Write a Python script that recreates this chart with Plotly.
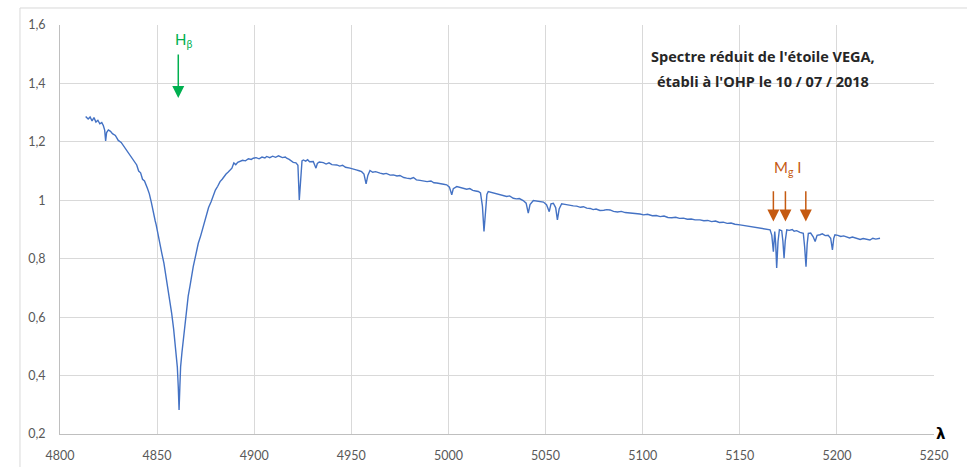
import plotly.graph_objects as go

wavelength = [
    4813.2, 4814.5, 4815.5, 4816.5, 4817.5, 4818.5, 4819.5, 4820.5, 4821.5, 4822.3,
    4823.0, 4823.5, 4824.0, 4824.9, 4826.0, 4827.0, 4828.5, 4830.0, 4831.5, 4833.0,
    4834.3, 4835.5, 4836.5, 4837.5, 4838.5, 4839.5, 4840.5, 4841.5, 4842.5, 4843.5,
    4845.0, 4846.0, 4847.0, 4848.0, 4849.0, 4849.5, 4850.6, 4851.5, 4852.4, 4853.5,
    4854.9, 4856.0, 4857.5, 4858.5, 4859.2, 4860.0, 4860.4, 4860.9, 4861.3, 4861.7,
    4862.1, 4862.8, 4863.5, 4864.3, 4865.2, 4866.0, 4866.9, 4867.8, 4868.6, 4869.5,
    4870.3, 4871.2, 4872.5, 4873.5, 4874.5, 4875.5, 4876.5, 4877.8, 4878.9, 4880.0,
    4881.2, 4882.4, 4883.5, 4884.5, 4885.5, 4886.5, 4887.5, 4888.5, 4889.5, 4890.5,
    4891.5, 4892.7, 4894.0, 4895.5, 4897.0, 4898.5, 4899.5, 4901.0, 4902.5, 4904.0,
    4905.5, 4906.4, 4908.0, 4909.5, 4911.0, 4912.5, 4913.3, 4914.5, 4916.0, 4916.7,
    4918.0, 4919.0, 4920.1, 4921.5, 4922.5, 4923.2, 4923.9, 4924.6, 4925.3, 4926.5,
    4927.5, 4928.5, 4930.4, 4931.0, 4931.8, 4932.5, 4933.5, 4935.6, 4937.0, 4938.5,
    4940.0, 4942.5, 4944.0, 4945.5, 4947.0, 4949.3, 4951.0, 4952.5, 4954.0, 4955.3,
    4956.5, 4957.6, 4958.5, 4959.6, 4961.0, 4962.5, 4964.8, 4966.5, 4968.0, 4970.0,
    4971.6, 4973.5, 4975.0, 4977.0, 4978.5, 4980.5, 4982.0, 4983.5, 4985.4, 4987.0,
    4989.0, 4991.0, 4992.5, 4994.0, 4996.0, 4997.5, 4999.1, 5000.5, 5001.7, 5002.5,
    5004.3, 5006.0, 5007.5, 5009.4, 5011.0, 5012.5, 5014.0, 5015.4, 5016.5, 5017.5,
    5018.3, 5019.0, 5019.8, 5020.5, 5022.0, 5023.5, 5025.0, 5026.6, 5028.0, 5030.0,
    5031.5, 5033.4, 5035.0, 5036.5, 5038.5, 5040.0, 5041.1, 5042.0, 5043.7, 5045.0,
    5046.5, 5048.9, 5050.5, 5051.9, 5052.8, 5054.0, 5055.2, 5056.1, 5057.0, 5058.3,
    5060.0, 5062.0, 5064.3, 5066.0, 5068.0, 5069.5, 5071.2, 5073.0, 5074.5, 5076.0,
    5078.0, 5080.0, 5081.5, 5083.2, 5085.0, 5087.0, 5089.0, 5091.0, 5093.0, 5095.0,
    5096.5, 5098.6, 5100.5, 5102.5, 5105.0, 5107.0, 5109.0, 5111.0, 5113.0, 5115.0,
    5117.0, 5119.0, 5121.0, 5123.0, 5125.0, 5127.0, 5129.5, 5131.5, 5133.5, 5135.5,
    5137.5, 5139.5, 5141.5, 5143.5, 5145.5, 5147.5, 5150.1, 5152.0, 5154.0, 5156.0,
    5158.0, 5160.4, 5162.0, 5164.0, 5165.6, 5166.5, 5167.3, 5168.0, 5168.5, 5169.0,
    5169.7, 5170.4, 5171.6, 5172.2, 5172.8, 5173.4, 5174.2, 5175.5, 5177.0, 5178.0,
    5179.3, 5181.0, 5182.7, 5183.4, 5184.1, 5184.7, 5185.3, 5186.5, 5187.8, 5188.8,
    5189.8, 5191.3, 5192.5, 5194.0, 5195.5, 5196.8, 5197.7, 5198.4, 5199.0, 5200.5,
    5202.0, 5203.5, 5205.0, 5206.5, 5208.0, 5210.2, 5212.0, 5213.5, 5215.4, 5217.0,
    5218.5, 5220.0, 5222.2,
]

flux = [
    1.287, 1.278, 1.285, 1.272, 1.283, 1.268, 1.274, 1.262, 1.266, 1.256,
    1.240, 1.203, 1.232, 1.241, 1.236, 1.228, 1.222, 1.205, 1.198, 1.184,
    1.173, 1.160, 1.152, 1.140, 1.132, 1.121, 1.100, 1.094, 1.072, 1.066,
    1.041, 1.022, 0.994, 0.956, 0.930, 0.917, 0.876, 0.848, 0.819, 0.785,
    0.727, 0.680, 0.613, 0.560, 0.511, 0.470, 0.430, 0.360, 0.282, 0.360,
    0.430, 0.480, 0.522, 0.580, 0.636, 0.672, 0.705, 0.745, 0.773, 0.800,
    0.826, 0.853, 0.880, 0.905, 0.930, 0.956, 0.975, 0.995, 1.019, 1.035,
    1.048, 1.064, 1.072, 1.082, 1.090, 1.096, 1.104, 1.110, 1.128, 1.122,
    1.130, 1.133, 1.137, 1.135, 1.142, 1.140, 1.144, 1.146, 1.142, 1.148,
    1.145, 1.150, 1.146, 1.151, 1.147, 1.152, 1.150, 1.146, 1.148, 1.144,
    1.140, 1.135, 1.130, 1.128, 1.120, 1.001, 1.090, 1.135, 1.138, 1.134,
    1.139, 1.132, 1.133, 1.124, 1.110, 1.126, 1.131, 1.129, 1.124, 1.128,
    1.122, 1.121, 1.117, 1.120, 1.113, 1.110, 1.108, 1.104, 1.101, 1.098,
    1.090, 1.056, 1.085, 1.102, 1.096, 1.098, 1.093, 1.090, 1.092, 1.086,
    1.087, 1.083, 1.085, 1.078, 1.076, 1.074, 1.078, 1.070, 1.068, 1.066,
    1.064, 1.066, 1.060, 1.059, 1.058, 1.055, 1.053, 1.045, 1.019, 1.040,
    1.047, 1.044, 1.040, 1.038, 1.040, 1.034, 1.032, 1.030, 1.025, 0.980,
    0.893, 0.960, 1.020, 1.030, 1.027, 1.025, 1.022, 1.019, 1.016, 1.013,
    1.015, 1.007, 1.005, 1.006, 0.999, 0.990, 0.956, 0.985, 0.999, 0.998,
    0.995, 0.994, 0.985, 0.961, 0.988, 0.990, 0.975, 0.933, 0.970, 0.988,
    0.986, 0.983, 0.981, 0.980, 0.976, 0.978, 0.973, 0.972, 0.968, 0.970,
    0.965, 0.966, 0.968, 0.967, 0.962, 0.960, 0.962, 0.958, 0.957, 0.955,
    0.956, 0.953, 0.950, 0.952, 0.947, 0.948, 0.944, 0.946, 0.941, 0.940,
    0.942, 0.938, 0.939, 0.935, 0.936, 0.933, 0.933, 0.930, 0.931, 0.927,
    0.929, 0.924, 0.925, 0.921, 0.922, 0.918, 0.916, 0.914, 0.912, 0.909,
    0.908, 0.905, 0.903, 0.900, 0.899, 0.880, 0.824, 0.893, 0.850, 0.768,
    0.860, 0.899, 0.896, 0.860, 0.802, 0.860, 0.899, 0.897, 0.900, 0.894,
    0.896, 0.890, 0.887, 0.840, 0.773, 0.850, 0.887, 0.888, 0.875, 0.859,
    0.880, 0.882, 0.885, 0.879, 0.880, 0.870, 0.830, 0.870, 0.882, 0.880,
    0.876, 0.878, 0.874, 0.871, 0.874, 0.870, 0.866, 0.869, 0.867, 0.864,
    0.870, 0.867, 0.870,
]

x_ticks = [4800, 4850, 4900, 4950, 5000, 5050, 5100, 5150, 5200, 5250]
x_tick_labels = ["4800", "4850", "4900", "4950", "5000", "5050", "5100", "5150", "5200", "5250"]
y_ticks = [0.2, 0.4, 0.6, 0.8, 1.0, 1.2, 1.4, 1.6]
y_tick_labels = ["0,2", "0,4", "0,6", "0,8", "1", "1,2", "1,4", "1,6"]

title_lines = ["Spectre réduit de l'étoile VEGA,", "établi à l'OHP le 10 / 07 / 2018"]

hbeta_label = "H<sub>β</sub>"
hbeta_lambda = 4860.9
hbeta_arrow = (1.504, 1.350)

mg_label = "M<sub>g</sub> I"
mg_lambdas = [5167.3, 5173.5, 5184.0]
mg_arrow = (1.036, 0.927)

FONT = "Lato"
GRID = "#D9D9D9"
TICKCOL = "#595959"

fig = go.Figure()
fig.add_trace(go.Scatter(
    x=wavelength, y=flux, mode="lines",
    line=dict(color="#4472C4", width=1.4),
    showlegend=False, hoverinfo="skip",
))

annotations = []
# Title (two lines, placed separately to match line spacing)
for txt, yv in zip(title_lines, [1.491, 1.406]):
    annotations.append(dict(
        x=5162, y=yv, xref="x", yref="y",
        text="<b>" + txt + "</b>",
        showarrow=False, xanchor="center", yanchor="middle",
        font=dict(family="Open Sans", size=14.5, color="#262626"),
    ))
# H beta arrow and label
annotations.append(dict(
    x=hbeta_lambda, y=hbeta_arrow[1], ax=hbeta_lambda, ay=hbeta_arrow[0],
    xref="x", yref="y", axref="x", ayref="y", text="",
    showarrow=True, arrowhead=2, arrowsize=1.6, arrowwidth=1.5, arrowcolor="#00B050",
))
annotations.append(dict(
    x=hbeta_lambda + 2.5, y=1.549, xref="x", yref="y", text=hbeta_label,
    showarrow=False, font=dict(family=FONT, size=15, color="#00B050"),
))
# Mg arrows and label
for lam in mg_lambdas:
    annotations.append(dict(
        x=lam, y=mg_arrow[1], ax=lam, ay=mg_arrow[0],
        xref="x", yref="y", axref="x", ayref="y", text="",
        showarrow=True, arrowhead=2, arrowsize=1.6, arrowwidth=1.5, arrowcolor="#C55A11",
    ))
annotations.append(dict(
    x=5174.8, y=1.111, xref="x", yref="y", text=mg_label,
    showarrow=False, font=dict(family=FONT, size=15, color="#C55A11"),
))
# lambda axis label
annotations.append(dict(
    x=1.008, y=0.0, xref="paper", yref="paper", xanchor="center", yanchor="middle",
    text="<b>λ</b>", showarrow=False,
    font=dict(family="DejaVu Sans", size=15, color="#000000"),
))

shapes = [
    # white box behind title
    dict(type="rect", xref="x", yref="y", x0=5095, x1=5252, y0=1.328, y1=1.535,
         fillcolor="white", line=dict(width=0), layer="below"),
    # outer chart border (cropped)
    dict(type="rect", xref="paper", yref="paper", x0=-0.0458, x1=1.2, y0=-0.2, y1=1.0416,
         fillcolor="rgba(0,0,0,0)", line=dict(color="#D9D9D9", width=1), layer="below"),
]

fig.update_layout(
    width=967, height=467,
    margin=dict(l=60, r=33, t=25, b=33, autoexpand=False),
    paper_bgcolor="white", plot_bgcolor="white",
    font=dict(family=FONT, size=12.5, color=TICKCOL),
    annotations=annotations, shapes=shapes,
    xaxis=dict(
        range=[4800, 5250], tickmode="array", tickvals=x_ticks, ticktext=x_tick_labels,
        showgrid=True, gridcolor=GRID, gridwidth=1,
        showline=True, linecolor="#BFBFBF", linewidth=1,
        zeroline=False, ticks="", ticklabelstandoff=10, automargin=False,
        tickfont=dict(family=FONT, size=12.5, color=TICKCOL),
    ),
    yaxis=dict(
        range=[0.2, 1.6], tickmode="array", tickvals=y_ticks, ticktext=y_tick_labels,
        showgrid=True, gridcolor=GRID, gridwidth=1,
        showline=True, linecolor="#BFBFBF", linewidth=1,
        zeroline=False, ticks="", ticklabelstandoff=11, automargin=False,
        tickfont=dict(family=FONT, size=12.5, color=TICKCOL),
    ),
)

fig.write_html("out.html")
